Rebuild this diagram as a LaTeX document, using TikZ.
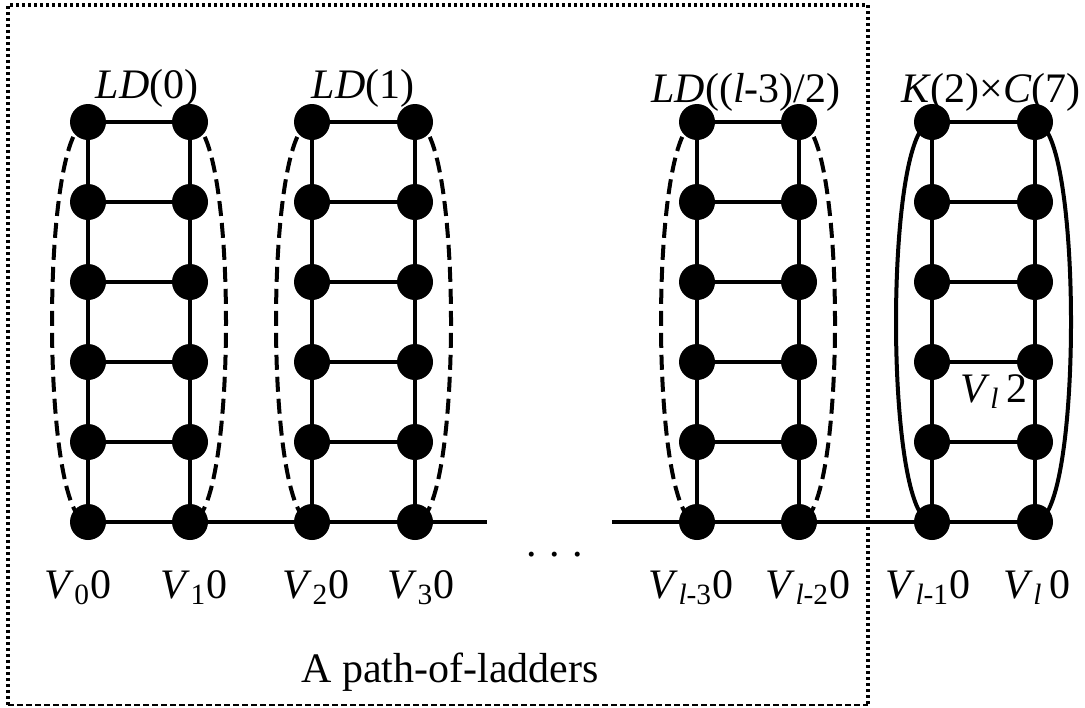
\documentclass[tikz,border=0pt]{standalone}
\usepackage{fontspec}
\setmainfont{Liberation Serif}
\usetikzlibrary{backgrounds}
\begin{document}
\begin{tikzpicture}[x=0.5pt,y=-0.5pt,
	    vtx/.style={circle,fill=black,inner sep=0pt,minimum size=18pt},
	    edge/.style={line width=1.7pt},
	    wrap/.style={line width=2pt},
	    miss/.style={wrap,dash pattern=on 7.5pt off 3.5pt},
	    lbl/.style={anchor=base,inner sep=0pt,font=\fontsize{21}{25}\selectfont}]
	    \useasboundingbox (0,0) rectangle (1085,707);
	    % vertices
	    \foreach \c/\x in {1/88,2/190,3/312,4/415,5/697,6/799,7/932,8/1035}
	      \foreach \r/\y in {1/122,2/202,3/282,4/362,5/442,6/522}
	        \node[vtx] (v\c-\r) at (\x,\y) {};
	    \coordinate (gapl) at (487,522);
	    \coordinate (gapr) at (612,522);
	    \begin{scope}[on background layer]
	      % ladders
	      \foreach \c in {1,...,8}
	        \draw[edge] (v\c-1)--(v\c-2)--(v\c-3)--(v\c-4)--(v\c-5)--(v\c-6);
	      \foreach \a/\b in {1/2,3/4,5/6,7/8}
	        \foreach \r in {1,...,5}
	          \draw[edge] (v\a-\r)--(v\b-\r);
	      % path
	      \draw[edge] (v1-6)--(v2-6)--(v3-6)--(v4-6)--(gapl);
	      \draw[edge] (gapr)--(v5-6)--(v6-6)--(v7-6)--(v8-6);
	      % wrap edges
	      \foreach \c in {1,3,5}
	        \draw[miss] (v\c-1.center) .. controls +(-48,0) and +(-48,0) .. (v\c-6.center);
	      \foreach \c in {2,4,6}
	        \draw[miss] (v\c-1.center) .. controls +(48,0) and +(48,0) .. (v\c-6.center);
	      \draw[wrap] (v7-1.center) .. controls +(-48,0) and +(-48,0) .. (v7-6.center);
	      \draw[wrap] (v8-1.center) .. controls +(48,0) and +(48,0) .. (v8-6.center);
	    \end{scope}
	    % frame
	    \draw[line width=2pt,dash pattern=on 1.5pt off 1.5pt] (8,705)--(8,5)--(868,5)--(868,705);
	    \draw[line width=1.2pt,dash pattern=on 3pt off 1.5pt] (8,705)--(868,705);
	    % labels
	    \node[lbl] (ld0) at (147,98) {\textit{LD}(0)};
	    \node[lbl] (ld1) at (363,98) {\textit{LD}(1)};
	    \node[lbl] (ldl) at (746,102) {\textit{LD}((\textit{l}-3)/2)};
	    \node[lbl] (kc) at (991,102) {\textit{K}(2)×\textit{C}(7)};
	    \node[lbl] (x0) at (78,598) {\textit{V}\textsubscript{0}0};
	    \node[lbl] (x1) at (194,598) {\textit{V}\textsubscript{1}0};
	    \node[lbl] (x2) at (316,598) {\textit{V}\textsubscript{2}0};
	    \node[lbl] (x3) at (421,598) {\textit{V}\textsubscript{3}0};
	    \node[lbl] (x5) at (691,598) {\textit{V}\textsubscript{\textit{l}-3}0};
	    \node[lbl] (x6) at (808,598) {\textit{V}\textsubscript{\textit{l}-2}0};
	    \node[lbl] (x7) at (928,598) {\textit{V}\textsubscript{\textit{l}-1}0};
	    \node[lbl] (x8) at (1037,598) {\textit{V}\textsubscript{\textit{l}}\,0};
	    \node[lbl] (y8) at (994,402) {\textit{V}\textsubscript{\textit{l}}\,2};
	    \node[lbl] (dots) at (555,556) {.\hspace{0.3em}.\hspace{0.3em}.};
	    \node[lbl] (pol) at (450,682) {A path-of-ladders};
	\end{tikzpicture}
\end{document}
